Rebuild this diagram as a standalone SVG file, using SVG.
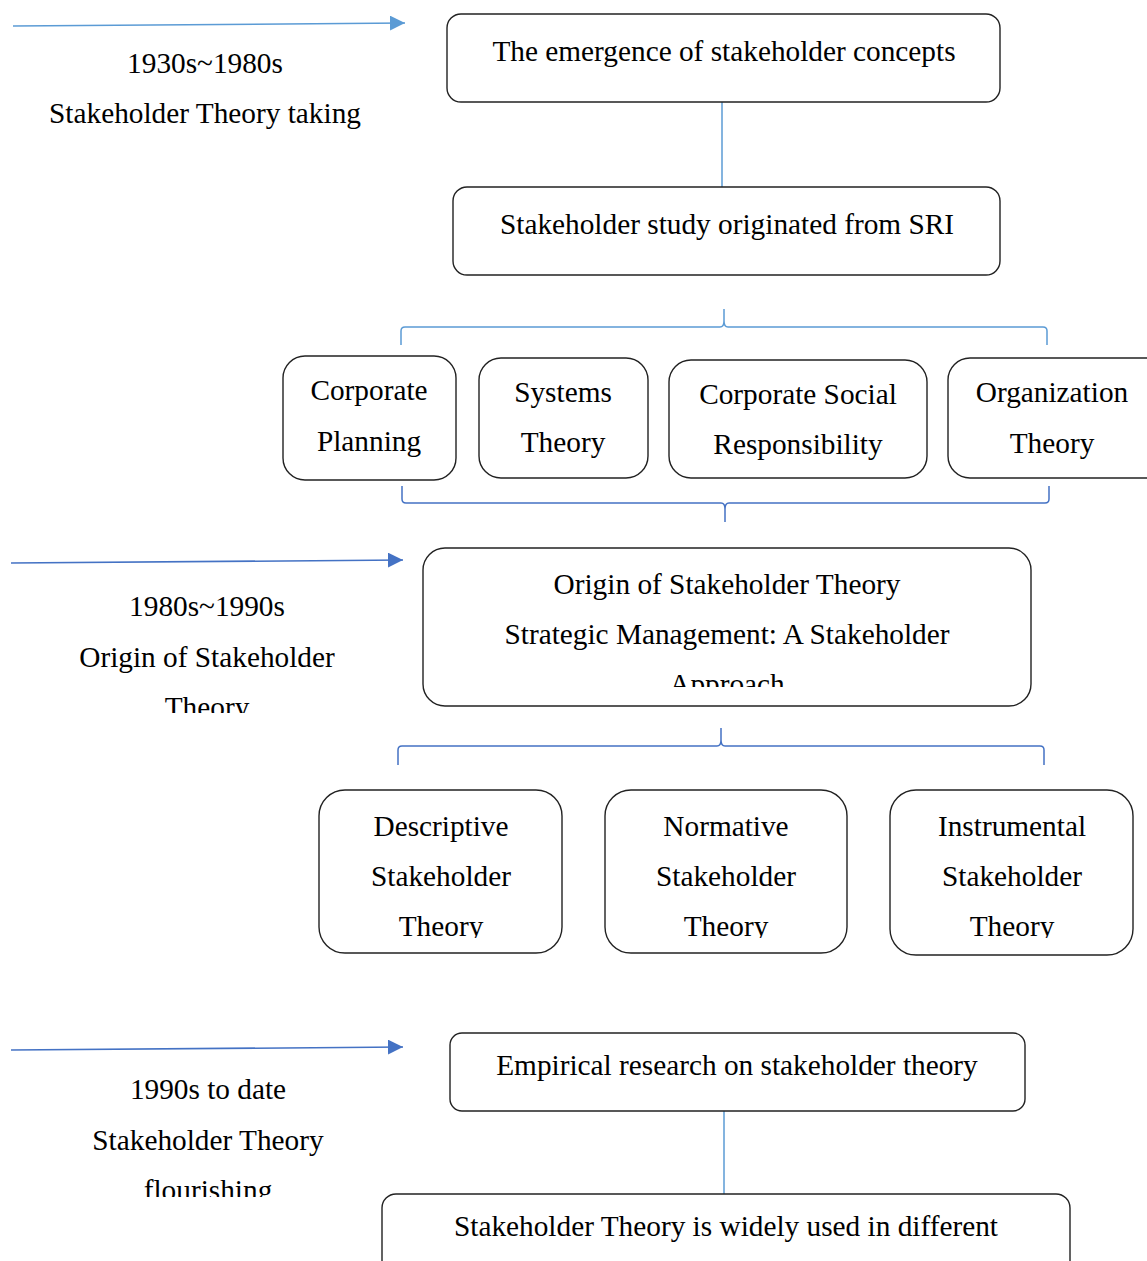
<svg xmlns="http://www.w3.org/2000/svg" width="1147" height="1261" viewBox="0 0 1147 1261">
  <defs>
    <style>
      .box { fill: #fff; stroke: #222; stroke-width: 1.4; }
      .t { font-size: 29.3px; fill: #000; text-anchor: middle; }
      .c1 { fill: none; stroke: #5b9bd5; stroke-width: 1.5; }
      .c2 { fill: none; stroke: #4472c4; stroke-width: 1.5; }
    </style>
    <marker id="ah1" markerWidth="15" markerHeight="15" refX="10" refY="5" orient="auto" markerUnits="userSpaceOnUse" viewBox="0 0 10 10">
      <path d="M0,0 L10,5 L0,10 z" fill="#5b9bd5"/>
    </marker>
    <marker id="ah2" markerWidth="15" markerHeight="15" refX="10" refY="5" orient="auto" markerUnits="userSpaceOnUse" viewBox="0 0 10 10">
      <path d="M0,0 L10,5 L0,10 z" fill="#4472c4"/>
    </marker>
    <clipPath id="clipLabel2"><rect x="0" y="540" width="420" height="173"/></clipPath>
    <clipPath id="clipLabel3"><rect x="0" y="1060" width="440" height="137"/></clipPath>
    <clipPath id="clipOrigin"><rect x="423" y="548" width="608" height="139"/></clipPath>
    <clipPath id="clipRow2"><rect x="300" y="790" width="847" height="148"/></clipPath>
  </defs>

  <!-- timeline arrows and links -->
  <g id="connectors">
    <line class="c1" x1="13" y1="26" x2="405" y2="23" marker-end="url(#ah1)"/>
    <line class="c2" x1="11" y1="563" x2="403" y2="560" marker-end="url(#ah2)"/>
    <line class="c2" x1="11" y1="1050" x2="403" y2="1047" marker-end="url(#ah2)"/>
    <line class="c1" x1="722" y1="102" x2="722" y2="187"/>
    <line class="c1" x1="724" y1="1111" x2="724" y2="1194"/>
    <!-- brace over the four disciplines -->
    <path class="c1" d="M401,345 L401,331 Q401,327 405,327 L720,327 Q724,327 724,321 L724,309 M724,321 Q724,327 728,327 L1043,327 Q1047,327 1047,331 L1047,345"/>
    <!-- brace under the four disciplines -->
    <path class="c2" d="M402,486 L402,499 Q402,503 406,503 L721,503 Q725,503 725,509 L725,522 M725,509 Q725,503 729,503 L1045,503 Q1049,503 1049,499 L1049,486"/>
    <!-- brace over the three theory types -->
    <path class="c2" d="M398,765 L398,750 Q398,746 402,746 L717,746 Q721,746 721,740 L721,728 M721,740 Q721,746 725,746 L1040,746 Q1044,746 1044,750 L1044,765"/>
  </g>

  <g font-family="'Liberation Serif', 'DejaVu Serif', serif">
  <!-- period labels -->
  <g id="period1">
    <text class="t" x="205" y="73">1930s~1980s</text>
    <text class="t" x="205" y="123">Stakeholder Theory taking</text>
  </g>
  <g id="period2" clip-path="url(#clipLabel2)">
    <text class="t" x="207" y="616">1980s~1990s</text>
    <text class="t" x="207" y="667">Origin of Stakeholder</text>
    <text class="t" x="207" y="717">Theory</text>
  </g>
  <g id="period3" clip-path="url(#clipLabel3)">
    <text class="t" x="208" y="1099">1990s to date</text>
    <text class="t" x="208" y="1150">Stakeholder Theory</text>
    <text class="t" x="208" y="1200">flourishing</text>
  </g>

  <g id="emergence">
    <rect class="box" x="447" y="14" width="553" height="88" rx="14"/>
    <text class="t" x="724" y="61">The emergence of stakeholder concepts</text>
  </g>
  <g id="sri">
    <rect class="box" x="453" y="187" width="547" height="88" rx="14"/>
    <text class="t" x="727" y="234">Stakeholder study originated from SRI</text>
  </g>

  <g id="corporate-planning">
    <rect class="box" x="283" y="356" width="173" height="124" rx="22"/>
    <text class="t" x="369" y="400">Corporate</text>
    <text class="t" x="369" y="451">Planning</text>
  </g>
  <g id="systems-theory">
    <rect class="box" x="479" y="358" width="169" height="120" rx="22"/>
    <text class="t" x="563" y="402">Systems</text>
    <text class="t" x="563" y="452">Theory</text>
  </g>
  <g id="csr">
    <rect class="box" x="669" y="360" width="258" height="118" rx="22"/>
    <text class="t" x="798" y="404">Corporate Social</text>
    <text class="t" x="798" y="454">Responsibility</text>
  </g>
  <g id="organization-theory">
    <rect class="box" x="948" y="358" width="220" height="120" rx="22"/>
    <text class="t" x="1052" y="402">Organization</text>
    <text class="t" x="1052" y="453">Theory</text>
  </g>

  <g id="origin">
    <rect class="box" x="423" y="548" width="608" height="158" rx="22"/>
    <g clip-path="url(#clipOrigin)">
      <text class="t" x="727" y="594">Origin of Stakeholder Theory</text>
      <text class="t" x="727" y="644">Strategic Management: A Stakeholder</text>
      <text class="t" x="727" y="694">Approach</text>
    </g>
  </g>

  <g id="descriptive">
    <rect class="box" x="319" y="790" width="243" height="163" rx="26"/>
    <g clip-path="url(#clipRow2)">
      <text class="t" x="441" y="836">Descriptive</text>
      <text class="t" x="441" y="886">Stakeholder</text>
      <text class="t" x="441" y="936">Theory</text>
    </g>
  </g>
  <g id="normative">
    <rect class="box" x="605" y="790" width="242" height="163" rx="26"/>
    <g clip-path="url(#clipRow2)">
      <text class="t" x="726" y="836">Normative</text>
      <text class="t" x="726" y="886">Stakeholder</text>
      <text class="t" x="726" y="936">Theory</text>
    </g>
  </g>
  <g id="instrumental">
    <rect class="box" x="890" y="790" width="243" height="165" rx="26"/>
    <g clip-path="url(#clipRow2)">
      <text class="t" x="1012" y="836">Instrumental</text>
      <text class="t" x="1012" y="886">Stakeholder</text>
      <text class="t" x="1012" y="936">Theory</text>
    </g>
  </g>

  <g id="empirical">
    <rect class="box" x="450" y="1033" width="575" height="78" rx="12"/>
    <text class="t" x="737" y="1075">Empirical research on stakeholder theory</text>
  </g>
  <g id="widely-used">
    <rect class="box" x="382" y="1194" width="688" height="90" rx="14"/>
    <text class="t" x="726" y="1236">Stakeholder Theory is widely used in different</text>
  </g>
  </g>
</svg>
